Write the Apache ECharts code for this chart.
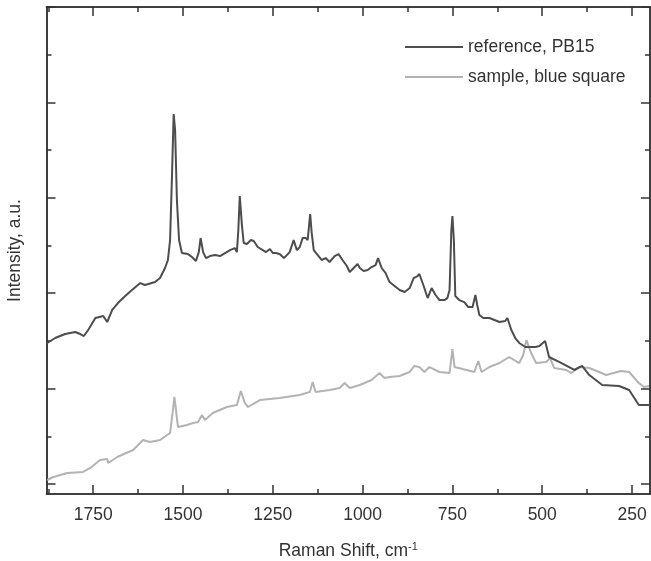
<!DOCTYPE html>
<html><head><meta charset="utf-8">
<script src="https://cdn.jsdelivr.net/npm/echarts@6/dist/echarts.min.js"></script>
<style>html,body{margin:0;padding:0;background:#fff}#c{width:651px;height:561px}</style>
</head><body><div id="c"></div>
<script>
const refShift = [1878,1856,1828,1800,1786,1776,1764,1744,1722,1711,1697,1681,1661,1642,1619,1606,1578,1564,1550,1542,1536,1531,1526,1522,1517,1511,1503,1486,1475,1464,1456,1451,1444,1436,1425,1411,1397,1383,1369,1356,1350,1346,1342,1336,1331,1322,1311,1303,1292,1278,1269,1258,1250,1242,1231,1219,1203,1192,1183,1175,1167,1158,1153,1146,1142,1136,1125,1114,1103,1092,1078,1067,1056,1044,1036,1025,1014,1008,997,986,975,964,957,947,936,925,911,897,883,869,858,847,842,831,819,808,797,786,772,764,758,753,750,746,742,731,717,706,694,686,681,675,664,647,633,619,603,597,586,575,564,547,536,519,508,492,481,453,425,411,389,369,333,286,258,231,200];
const refInt = [1478,1530,1572,1593,1572,1551,1614,1740,1761,1698,1824,1897,1970,2033,2106,2086,2117,2159,2264,2348,2557,3186,3878,3710,2976,2557,2421,2410,2379,2337,2431,2578,2431,2368,2389,2400,2389,2421,2452,2473,2431,2662,3018,2714,2526,2515,2557,2547,2484,2452,2431,2463,2421,2421,2410,2368,2431,2557,2452,2484,2578,2578,2557,2830,2641,2452,2400,2348,2368,2327,2389,2410,2348,2285,2222,2264,2306,2264,2232,2243,2274,2295,2368,2264,2211,2117,2075,2033,2012,2054,2159,2180,2201,2086,1949,2054,1981,1928,1928,1949,2033,2662,2809,2557,1970,1928,1907,1855,1855,1981,1876,1771,1740,1740,1719,1698,1708,1740,1614,1530,1478,1436,1436,1436,1446,1499,1331,1279,1226,1195,1237,1142,1038,1027,985,828,828];

const sampleShift = [1878,1861,1822,1778,1758,1731,1711,1708,1683,1639,1611,1592,1564,1536,1528,1524,1514,1489,1472,1458,1447,1439,1417,1378,1350,1339,1328,1319,1286,1231,1175,1147,1139,1131,1092,1064,1050,1036,1008,975,953,939,925,897,869,856,842,828,814,786,758,750,744,711,689,678,669,647,619,592,564,553,544,536,531,517,489,478,467,433,419,397,369,322,281,258,231,217,203];
const sampleInt = [42,73,115,126,168,252,262,220,283,356,461,440,461,534,776,912,597,618,639,650,723,671,744,807,828,975,849,807,880,901,933,964,1069,964,985,1006,1058,1006,1038,1090,1163,1111,1121,1132,1174,1237,1226,1174,1226,1174,1163,1415,1226,1195,1174,1289,1174,1226,1268,1331,1268,1352,1509,1425,1373,1268,1279,1320,1216,1195,1163,1226,1216,1142,1184,1174,1058,1016,1027];

const xMajor = [250,500,750,1000,1250,1500,1750];
const xMinor = [375,625,875,1125,1375,1625,1875];
const yMajor = [0,1000,2000,3000,4000,5000];
const yMinor = [500,1500,2500,3500,4500];
const seriesNames = ['reference, PB15','sample, blue square'];

const X_MIN = 200, X_MAX = 1880, Y_MIN = -105, Y_MAX = 5000;
const zip = (a,b) => a.map((v,i)=>[v,b[i]]);
const axisCol = '#333';
const font = 'Liberation Sans, Arial, sans-serif';

function xAx(pos, ticks, len, show, extra) {
  return Object.assign({
    type:'value', position:pos, min:X_MIN, max:X_MAX, inverse:true,
    axisLine:{show:true, onZero:false, lineStyle:{color:axisCol, width:1.5}},
    axisTick:{show:true, inside:true, length:len, customValues:ticks, lineStyle:{color:axisCol, width:1.5}},
    axisLabel:{show:show, customValues:ticks, color:axisCol, fontSize:17.5, fontFamily:font, margin:12,
      formatter:(v)=>String(v)},
    splitLine:{show:false}
  }, extra||{});
}
function yAx(pos, ticks, len, extra) {
  return Object.assign({
    type:'value', position:pos, min:Y_MIN, max:Y_MAX,
    axisLine:{show:true, onZero:false, lineStyle:{color:axisCol, width:1.5}},
    axisTick:{show:true, inside:true, length:len, customValues:ticks, lineStyle:{color:axisCol, width:1.5}},
    axisLabel:{show:false},
    splitLine:{show:false}
  }, extra||{});
}

const chart = echarts.init(document.getElementById('c'), null, {renderer:'canvas'});
chart.setOption({
  animation:false,
  backgroundColor:'#fff',
  grid:{left:46.5, right:1, top:7, bottom:67, containLabel:false, outerBoundsMode:'none'},
  legend:{
    orient:'vertical', left:400, top:33, itemWidth:58, itemHeight:2, itemGap:12, icon:'rect',
    textStyle:{color:axisCol, fontSize:17.5, fontFamily:font, lineHeight:18},
    data:seriesNames
  },
  xAxis:[
    xAx('bottom', xMajor, 9, true, {
      name:'{a|Raman Shift, cm}{b|-1}', nameLocation:'middle', nameGap:47,
      nameTextStyle:{rich:{a:{fontSize:17.5, fontFamily:font, color:axisCol}, b:{fontSize:11, fontFamily:font, color:axisCol, padding:[0,0,9,0]}}}
    }),
    xAx('bottom', xMinor, 5, false),
    xAx('top', xMajor, 9, false),
    xAx('top', xMinor, 5, false)
  ],
  yAxis:[
    yAx('left', yMajor, 9, {name:'Intensity, a.u.', nameLocation:'middle', nameGap:22,
      nameTextStyle:{fontSize:17.5, fontFamily:font, color:axisCol}}),
    yAx('left', yMinor, 5),
    yAx('right', yMajor, 9),
    yAx('right', yMinor, 5)
  ],
  series:[
    {name:seriesNames[0], type:'line', data:zip(refShift, refInt), showSymbol:false, symbol:'none',
      lineStyle:{color:'#4d4d4d', width:2}, itemStyle:{color:'#4d4d4d'}, z:3},
    {name:seriesNames[1], type:'line', data:zip(sampleShift, sampleInt), showSymbol:false, symbol:'none',
      lineStyle:{color:'#b3b3b3', width:2}, itemStyle:{color:'#b3b3b3'}, z:2}
  ]
});
</script></body></html>
